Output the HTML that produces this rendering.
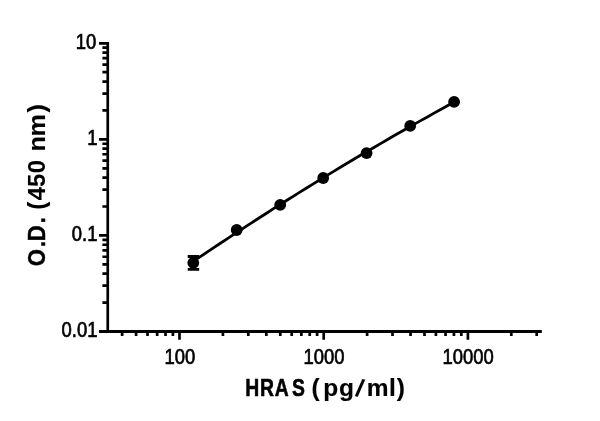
<!DOCTYPE html>
<html><head><meta charset="utf-8"><title>HRAS standard curve</title>
<style>html,body{margin:0;padding:0;background:#fff}svg{display:block}</style></head>
<body>
<svg width="600" height="421" viewBox="0 0 600 421">
<rect width="600" height="421" fill="#fff"/>
<g stroke="#000" stroke-width="2.70" fill="none" stroke-linecap="butt">
<path d="M107.75 41.95V332.85"/>
<path d="M99.00 331.50H541.80" stroke-width="2.9"/>
<path d="M99.00 331.51H107.75M102.40 302.59H107.75M102.40 285.67H107.75M102.40 273.67H107.75M102.40 264.36H107.75M102.40 256.75H107.75M102.40 250.32H107.75M102.40 244.75H107.75M102.40 239.84H107.75M99.00 235.44H107.75M102.40 206.52H107.75M102.40 189.60H107.75M102.40 177.60H107.75M102.40 168.29H107.75M102.40 160.68H107.75M102.40 154.25H107.75M102.40 148.68H107.75M102.40 143.77H107.75M99.00 139.37H107.75M102.40 110.45H107.75M102.40 93.53H107.75M102.40 81.53H107.75M102.40 72.22H107.75M102.40 64.61H107.75M102.40 58.18H107.75M102.40 52.61H107.75M102.40 47.70H107.75M99.00 43.30H107.75"/>
<path d="M122.12 331.50V336.00M136.09 331.50V336.00M147.51 331.50V336.00M157.16 331.50V336.00M165.53 331.50V336.00M172.90 331.50V336.00M179.50 331.50V339.70M222.91 331.50V336.00M248.30 331.50V336.00M266.32 331.50V336.00M280.29 331.50V336.00M291.71 331.50V336.00M301.36 331.50V336.00M309.73 331.50V336.00M317.10 331.50V336.00M323.70 331.50V339.70M367.11 331.50V336.00M392.50 331.50V336.00M410.52 331.50V336.00M424.49 331.50V336.00M435.91 331.50V336.00M445.56 331.50V336.00M453.93 331.50V336.00M461.30 331.50V336.00M467.90 331.50V339.70M511.31 331.50V336.00M536.70 331.50V336.00"/>
</g>
<polyline fill="none" stroke="#000" stroke-width="2.8" stroke-linejoin="round" points="193.3,261.4 200.0,256.9 206.7,252.4 213.4,247.9 220.0,243.5 226.7,239.1 233.4,234.7 240.1,230.3 246.8,225.9 253.5,221.6 260.2,217.3 266.9,213.0 273.5,208.7 280.2,204.5 286.9,200.3 293.6,196.1 300.3,191.9 307.0,187.7 313.7,183.6 320.4,179.5 327.0,175.4 333.7,171.4 340.4,167.3 347.1,163.3 353.8,159.3 360.5,155.3 367.2,151.4 373.9,147.5 380.5,143.6 387.2,139.7 393.9,135.8 400.6,132.0 407.3,128.2 414.0,124.4 420.7,120.6 427.4,116.9 434.0,113.1 440.7,109.4 447.4,105.8 454.1,102.1"/>
<path d="M187.7 256.45H199.2M187.7 269.35H199.2M193.4 256.4V269.3" stroke="#000" stroke-width="2.9" fill="none"/>
<circle cx="193.3" cy="262.8" r="5.9" fill="#000"/>
<circle cx="236.7" cy="230.0" r="5.9" fill="#000"/>
<circle cx="280.2" cy="204.8" r="5.9" fill="#000"/>
<circle cx="323.2" cy="178.0" r="5.9" fill="#000"/>
<circle cx="366.6" cy="153.1" r="5.9" fill="#000"/>
<circle cx="410.2" cy="125.9" r="5.9" fill="#000"/>
<circle cx="454.1" cy="101.9" r="5.9" fill="#000"/>
<g font-family="'Liberation Sans', Arial, sans-serif" font-size="21.5" fill="#000" stroke="#000" stroke-width="0.7">
<text transform="translate(96.3 48.90) scale(0.858 1)" text-anchor="end">10</text>
<text transform="translate(97.4 144.97) scale(0.858 1)" text-anchor="end">1</text>
<text transform="translate(97.4 241.04) scale(0.858 1)" text-anchor="end">0.1</text>
<text transform="translate(97.4 337.11) scale(0.858 1)" text-anchor="end">0.01</text>
<text transform="translate(179.80 363.9) scale(0.858 1)" text-anchor="middle">100</text>
<text transform="translate(324.00 363.9) scale(0.858 1)" text-anchor="middle">1000</text>
<text transform="translate(468.20 363.9) scale(0.858 1)" text-anchor="middle">10000</text>
</g>
<g font-family="'Liberation Sans', Arial, sans-serif" font-size="24.5" font-weight="bold" fill="#000" stroke="#000" stroke-width="0.6" stroke-linejoin="round">
<text transform="translate(0 396.20) scale(0.790 1)" x="310.34 329.03 347.94 369.52">HRAS</text>
<text transform="translate(0 396.20) scale(1.000 1)" x="311.60 323.16 338.93 354.88 366.81 388.91 396.77" y="0 0 0 -0.8 0 0 0" rotate="0 0 0 13 0 0 0" stroke-width="0.15">(pg/ml)</text>
<text transform="translate(45.00 266.40) rotate(-90) scale(0.900 1)" x="0.21 21.61 27.93 47.94" stroke-width="0.45">O.D.</text>
<text transform="translate(45.00 266.40) rotate(-90) scale(0.970 1)" x="58.42 68.27 81.97 96.01" stroke-width="0.10">(450</text>
<text transform="translate(45.00 266.40) rotate(-90) scale(1.030 1)" x="111.55 126.05 149.46" stroke-width="0.10">nm)</text>
</g>
</svg>
</body></html>
